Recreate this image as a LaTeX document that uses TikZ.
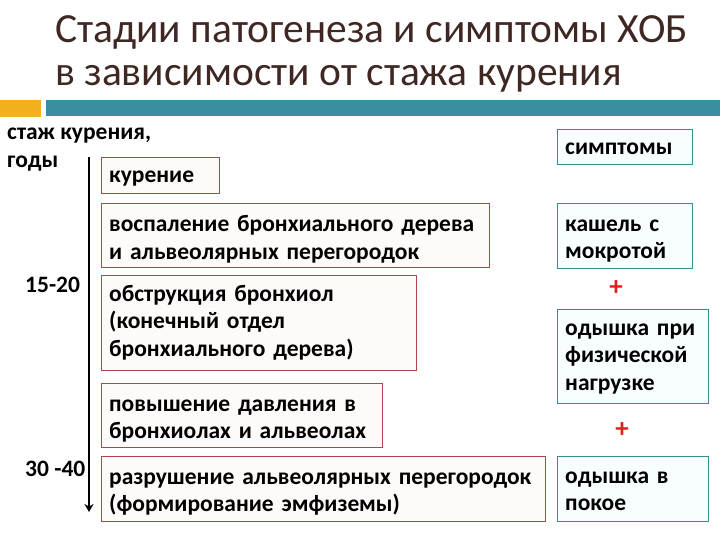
\documentclass[tikz,border=0pt]{standalone}
\usepackage{fontspec}
\setmainfont{Carlito}
\usetikzlibrary{arrows.meta}
\definecolor{titlec}{HTML}{3F2724}
\definecolor{orangebar}{HTML}{F2B01E}
\definecolor{tealbar}{HTML}{3A8EA2}
\definecolor{redline}{HTML}{B5434A}
\definecolor{tealline}{HTML}{3A8B8E}
\definecolor{redfill}{HTML}{FFFAFA}
\definecolor{tealfill}{HTML}{F8FEFE}
\definecolor{plusc}{HTML}{E0201C}
\tikzset{
  bodyfont/.style={font=\fontsize{23.5}{27.5}\selectfont\bfseries},
  rbox/.style={draw=redline, fill=redfill, line width=0.9pt, inner sep=0pt, anchor=north west},
  tbox/.style={draw=tealline, fill=tealfill, line width=0.9pt, inner sep=0pt, anchor=north west},
  btxt/.style={bodyfont, align=left, inner sep=0pt, anchor=base west, text width=#1},
  btxt/.default=140pt,
  lbl/.style={font=\fontsize{23.5}{26}\selectfont\bfseries, align=left, inner sep=0pt},
  plus/.style={text=plusc, font=\fontsize{27}{27}\selectfont\bfseries, inner sep=0pt},
  ttl/.style={text=titlec, font=\fontsize{41.5}{44}\selectfont, anchor=base west, inner sep=0pt}
}
\begin{document}
\begin{tikzpicture}[x=1pt,y=-1pt]
\useasboundingbox (0,0) rectangle (720,540);
% title
\node[ttl] (t1) at (55,43) {Стадии патогенеза и симптомы ХОБ};
\node[ttl] (t2) at (55,86) {в зависимости от стажа курения};
% bars
\fill[orangebar] (0,100) rectangle (41,117);
\fill[tealbar] (46,100) rectangle (720,116);
% left labels
\node[lbl, anchor=base west] (l1) at (7,140) {стаж курения,};
\node[lbl, anchor=base west] (l2) at (7,168) {годы};
\node[lbl, anchor=base west] (l3) at (25,292) {15-20};
\node[lbl, anchor=base west] (l4) at (25,476) {30 -40};
% timeline arrow
\coordinate (atop) at (89,157);
\coordinate (abot) at (89,512);
\draw[line width=1.8pt, -{Stealth[length=8pt,width=9pt]}] (atop) -- (abot);
% left boxes
\node[rbox, minimum width=118pt, minimum height=36pt] (b1) at (101,157) {};
\node[btxt] (b1t) at ([xshift=8pt,yshift=-26pt]b1.north west) {курение};
\node[rbox, minimum width=388pt, minimum height=64pt] (b2) at (101,203) {};
\node[btxt=380pt] (b2t) at ([xshift=8pt,yshift=-29pt]b2.north west) {воспаление бронхиального дерева\\и альвеолярных перегородок};
\node[rbox, minimum width=315pt, minimum height=95pt] (b3) at (101,275) {};
\node[btxt=300pt] (b3t) at ([xshift=8pt,yshift=-26pt]b3.north west) {обструкция бронхиол\\(конечный отдел\\бронхиального дерева)};
\node[rbox, minimum width=281pt, minimum height=64pt] (b4) at (101,383) {};
\node[btxt=280pt] (b4t) at ([xshift=8pt,yshift=-28pt]b4.north west) {повышение давления в\\бронхиолах и альвеолах};
\node[rbox, minimum width=444pt, minimum height=65pt] (b5) at (101,456) {};
\node[btxt=440pt] (b5t) at ([xshift=8pt,yshift=-28pt]b5.north west) {разрушение альвеолярных перегородок\\(формирование эмфиземы)};
% right boxes
\node[tbox, minimum width=135pt, minimum height=35pt] (s0) at (557,129) {};
\node[btxt] (s0t) at ([xshift=8pt,yshift=-26pt]s0.north west) {симптомы};
\node[tbox, minimum width=135pt, minimum height=65pt] (s1) at (557,203) {};
\node[btxt] (s1t) at ([xshift=8pt,yshift=-28pt]s1.north west) {кашель с\\мокротой};
\node[plus] (p1) at (616,288) {+};
\node[tbox, minimum width=151pt, minimum height=94pt] (s2) at (557,309) {};
\node[btxt] (s2t) at ([xshift=8pt,yshift=-26pt]s2.north west) {одышка при\\физической\\нагрузке};
\node[plus] (p2) at (622,430) {+};
\node[tbox, minimum width=151pt, minimum height=65pt] (s3) at (557,456) {};
\node[btxt] (s3t) at ([xshift=8pt,yshift=-27pt]s3.north west) {одышка в\\покое};
\end{tikzpicture}
\end{document}
